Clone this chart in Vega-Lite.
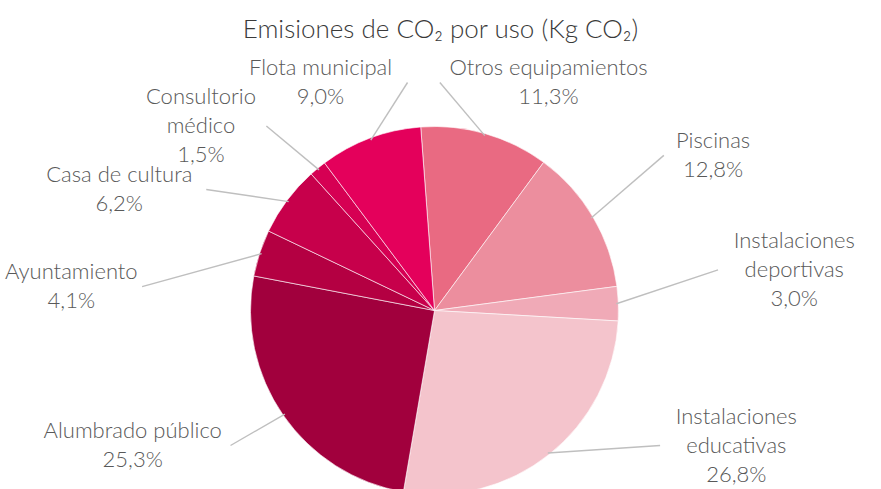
{
  "$schema": "https://vega.github.io/schema/vega-lite/v6.json",
  "width": 881,
  "height": 489,
  "autosize": {"type": "none"},
  "padding": 0,
  "background": "#ffffff",
  "title": {
    "text": "Emisiones de CO₂ por uso (Kg CO₂)",
    "font": "Lato",
    "fontSize": 26,
    "fontWeight": 300,
    "color": "#3A3A3A",
    "anchor": "middle",
    "frame": "group",
    "baseline": "alphabetic",
    "offset": -40,
    "dy": 24
  },
  "config": {"view": {"stroke": null}},
  "data": {
    "values": [
      {"order": 1, "name": "Otros equipamientos", "value": 11.3},
      {"order": 2, "name": "Piscinas", "value": 12.8},
      {"order": 3, "name": "Instalaciones\ndeportivas", "value": 3.0},
      {"order": 4, "name": "Instalaciones\neducativas", "value": 26.8},
      {"order": 5, "name": "Alumbrado público", "value": 25.3},
      {"order": 6, "name": "Ayuntamiento", "value": 4.1},
      {"order": 7, "name": "Casa de cultura", "value": 6.2},
      {"order": 8, "name": "Consultorio\nmédico", "value": 1.5},
      {"order": 9, "name": "Flota municipal", "value": 9.0}
    ]
  },
  "transform": [
    {"window": [{"op": "sum", "field": "value", "as": "cum"}], "sort": [{"field": "order"}], "frame": [null, 0]},
    {"joinaggregate": [{"op": "sum", "field": "value", "as": "total"}]},
    {"calculate": "datum.value + 5", "as": "vk"},
    {"window": [{"op": "sum", "field": "vk", "as": "cumk"}], "sort": [{"field": "order"}], "frame": [null, 0]},
    {"joinaggregate": [{"op": "sum", "field": "vk", "as": "totalk"}]},
    {"calculate": "2*PI*(datum.cum - datum.value/2)/datum.total - 0.075", "as": "am"},
    {"calculate": "2*PI*(datum.cumk - datum.vk/2)/datum.totalk - 0.075", "as": "ak"},
    {"calculate": "datum.ak - 0.175*sin(datum.ak)", "as": "al"},
    {"calculate": "clamp(240*cos(datum.al), -135, 228)", "as": "ly"},
    {"calculate": "(sin(datum.al) < 0 ? -1 : 1) * 365 * sqrt(1 - pow(datum.ly/240, 2))", "as": "lx"},
    {"calculate": "182*sin(datum.am)", "as": "sx"},
    {"calculate": "182*cos(datum.am)", "as": "sy"},
    {"calculate": "datum.lx - (datum.lx < 0 ? -1 : 1) * (5.4*length(split(datum.name, '\\n')[0]) + 6)", "as": "ex"},
    {"calculate": "datum.name + '\\n' + replace(format(datum.value, '.1f'), '.', ',') + '%'", "as": "label"},
    {"calculate": "datum.ly + (length(split(datum.label, '\\n')) - 1) * 14.5", "as": "ty"}
  ],
  "layer": [
    {
      "mark": {"type": "arc", "outerRadius": 184, "stroke": "#ffffff", "strokeWidth": 0.6},
      "encoding": {
        "x": {"datum": 0, "type": "quantitative", "axis": null, "scale": {"domain": [-434.5, 446.5], "nice": false, "zero": false}},
        "y": {"datum": 0, "type": "quantitative", "axis": null, "scale": {"domain": [-178.5, 310.5], "nice": false, "zero": false}},
        "theta": {"field": "value", "type": "quantitative", "stack": true, "scale": {"range": [-0.075, 6.2082]}},
        "order": {"field": "order", "type": "quantitative"},
        "color": {
          "field": "name",
          "type": "nominal",
          "legend": null,
          "scale": {
            "domain": ["Otros equipamientos", "Piscinas", "Instalaciones\ndeportivas", "Instalaciones\neducativas", "Alumbrado público", "Ayuntamiento", "Casa de cultura", "Consultorio\nmédico", "Flota municipal"],
            "range": ["#E96A82", "#EC8E9E", "#F0AAB7", "#F4C4CC", "#A1003D", "#B40042", "#C7004B", "#D60053", "#E4005B"]
          }
        }
      }
    },
    {
      "mark": {"type": "rule", "color": "#BFBFBF", "strokeWidth": 1.4},
      "encoding": {
        "x": {"field": "sx", "type": "quantitative", "axis": null},
        "y": {"field": "sy", "type": "quantitative", "axis": null},
        "x2": {"field": "ex"},
        "y2": {"field": "ly"}
      }
    },
    {
      "mark": {"type": "text", "font": "Lato", "fontSize": 22, "fontWeight": 300, "color": "#595959", "lineBreak": "\n", "lineHeight": 29, "align": "center", "baseline": "middle"},
      "encoding": {
        "x": {"field": "lx", "type": "quantitative", "axis": null},
        "y": {"field": "ty", "type": "quantitative", "axis": null},
        "text": {"field": "label"}
      }
    }
  ]
}
